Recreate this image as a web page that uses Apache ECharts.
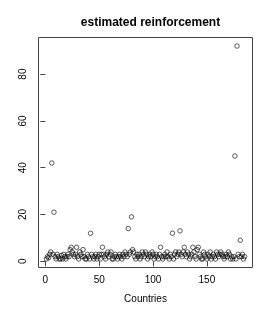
<!DOCTYPE html>
<html>
<head>
<meta charset="utf-8">
<script src="https://cdn.jsdelivr.net/npm/echarts@6/dist/echarts.min.js"></script>
<style>html,body{margin:0;padding:0;background:#fff}#c{width:273px;height:315px}</style>
</head>
<body>
<div id="c"></div>
<script>
const titleText = "estimated reinforcement";
const xAxisName = "Countries";
const xTicks = [0, 50, 100, 150];
const yTicks = [0, 20, 40, 60, 80];
const reinforcement = [
  1, 2, 1.5, 3, 4, 42, 3, 21, 2, 1,
  3, 2, 1, 1, 2.5, 1, 3, 2, 1, 2,
  3, 2, 5, 6, 4, 3, 2, 3, 6, 2,
  1, 4, 3, 2, 5, 2, 1, 1, 3, 2,
  1, 12, 3, 2, 1, 2, 3, 1, 2, 3,
  1, 3, 6, 3, 2, 1, 3, 4, 2, 3,
  4, 1, 1, 2, 3, 2, 1, 2, 3, 2,
  1, 3, 2, 4, 3, 2, 14, 3, 4, 19,
  5, 4, 2, 1, 3, 2, 3, 1, 2, 4,
  3, 2, 4, 3, 1, 2, 3, 2, 4, 3,
  1, 2, 3, 2, 1, 3, 6, 2, 1, 2,
  3, 2, 4, 2, 1, 3, 2, 12, 1, 3,
  4, 2, 3, 4, 13, 3, 2, 4, 6, 3,
  2, 4, 3, 1, 2, 3, 6, 4, 2, 1,
  5, 6, 3, 2, 1, 1, 4, 3, 2, 1,
  3, 2, 4, 1, 2, 3, 2, 1, 4, 3,
  2, 3, 4, 3, 2, 1, 2, 3, 2, 4,
  3, 1, 2, 1, 2, 45, 1, 92, 3, 2,
  9, 2, 3, 1, 2
];
const points = reinforcement.map((v, i) => [i + 1, v]);
const n = reinforcement.length;
const ymin = Math.min(...reinforcement), ymax = Math.max(...reinforcement);
const xr = n - 1, yr = ymax - ymin;

const chart = echarts.init(document.getElementById('c'), null, {renderer: 'canvas'});
const font = '"Liberation Sans", Arial, Helvetica, sans-serif';
chart.setOption({
  animation: false,
  backgroundColor: '#fff',
  title: {
    text: titleText,
    left: 145.5, top: 12, textAlign: 'center',
    textStyle: {fontFamily: font, fontSize: 12, fontWeight: 'bold', color: '#000'}
  },
  grid: {left: 38.5, right: 20.5, top: 37.5, bottom: 47.5, show: true, borderColor: '#444', borderWidth: 1, backgroundColor: 'transparent'},
  xAxis: {
    type: 'value', min: 1 - 0.04 * xr, max: n + 0.04 * xr,
    name: xAxisName, nameLocation: 'middle', nameGap: 27,
    nameTextStyle: {fontFamily: font, fontSize: 10, color: '#000'},
    axisLine: {show: false},
    splitLine: {show: false},
    axisTick: {show: true, length: 5, customValues: xTicks, lineStyle: {color: '#444'}},
    axisLabel: {customValues: xTicks, margin: 8, fontFamily: font, fontSize: 10, color: '#000'}
  },
  yAxis: {
    type: 'value', min: ymin - 0.04 * yr, max: ymax + 0.04 * yr,
    axisLine: {show: false},
    splitLine: {show: false},
    axisTick: {show: true, length: 5, customValues: yTicks, lineStyle: {color: '#444'}},
    axisLabel: {customValues: yTicks, rotate: 90, margin: 10, fontFamily: font, fontSize: 10, color: '#000'}
  },
  series: [{
    type: 'scatter',
    data: points,
    symbol: 'circle',
    symbolSize: 4.5,
    itemStyle: {color: 'transparent', borderColor: '#000', borderWidth: 0.8}
  }]
});
</script>
</body>
</html>
